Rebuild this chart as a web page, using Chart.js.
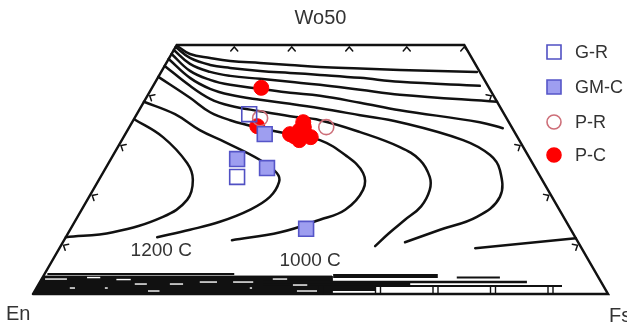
<!DOCTYPE html>
<html>
<head>
<meta charset="utf-8">
<script src="https://cdn.jsdelivr.net/npm/chart.js@4.4.1/dist/chart.umd.min.js"></script>
<style>
  html, body { margin: 0; padding: 0; background: #fff; }
  #wrap { width: 627px; height: 327px; }
</style>
</head>
<body>
<div id="wrap"><canvas id="quad" width="627" height="327"></canvas></div>
<script>
// Plot coordinates: x = Fs + Wo/2 (0..100), y = Wo (0..50)
const outline = [[0, 0], [100, 0], [75, 50], [25, 50], [0, 0]];

// Wo-rich isotherms fanning out from the Di corner
const upper1 = [[25.1, 49.8], [27.3, 48.2], [30.8, 47.4], [34.3, 46.8], [39.5, 46.4], [44.7, 46.0], [49.9, 45.6],
                [56.9, 45.3], [63.8, 45.0], [77.2, 44.6]];
const upper2 = [[24.8, 49.6], [27.3, 47.4], [30.8, 46.0], [34.3, 45.4], [39.5, 44.8], [44.7, 44.4], [49.9, 44.0],
                [56.9, 43.4], [63.8, 42.6], [77.7, 41.8]];
const upper3 = [[24.5, 49.0], [27.3, 46.2], [30.8, 44.6], [34.3, 43.8], [39.5, 43.2], [44.7, 42.6], [49.9, 42.0],
                [56.9, 41.0], [63.8, 40.0], [80.7, 38.6]];
const upper4 = [[24.1, 48.2], [27.3, 44.8], [30.8, 43.0], [34.3, 42.0], [39.5, 41.2], [44.7, 40.4], [49.9, 39.8],
                [56.9, 38.4], [63.8, 36.9], [77.7, 34.5], [81.7, 33.3]];

// isotherms bending back toward the En side
const iso900 = [[23.6, 47.2], [27.3, 43.4], [30.8, 41.2], [34.3, 40.0], [39.5, 39.0], [44.7, 38.2], [49.9, 37.3],
                [56.9, 35.9], [63.8, 34.5], [74.8, 30.9], [79.5, 27.9], [81.2, 24.9], [81.2, 19.5], [77.2, 15.5],
                [70.8, 12.9], [64.7, 10.4]];
const iso1000 = [[22.9, 45.8], [27.3, 41.8], [30.8, 39.2], [34.3, 37.8], [39.5, 36.7], [44.7, 35.7], [49.9, 34.9],
                 [56.9, 32.5], [63.8, 29.5], [67.3, 26.9], [69.0, 23.5], [69.0, 20.9], [67.5, 17.6], [64.7, 14.9],
                 [61.9, 12.2], [59.5, 9.6]];
const iso1100 = [[21.8, 43.6], [27.3, 39.4], [30.8, 36.5], [34.3, 34.9], [39.5, 33.3], [44.7, 32.1], [49.9, 30.9],
                 [54.3, 27.9], [57.4, 24.3], [57.4, 20.9], [54.3, 16.9], [49.9, 14.9], [43.0, 12.4], [34.6, 10.8]];
const iso1200 = [[19.3, 38.6], [24.7, 36.1], [29.0, 32.9], [33.4, 30.5], [39.5, 26.9], [42.4, 24.3], [42.8, 22.5],
                 [41.2, 19.5], [37.7, 16.9], [32.5, 14.5], [27.3, 12.9], [21.6, 11.4]];
const iso1300 = [[17.6, 35.1], [22.6, 31.5], [26.8, 26.3], [27.8, 22.9], [26.8, 18.9], [22.6, 15.5], [13.9, 12.4], [5.7, 11.4]];
const iso800 = [[76.9, 9.2], [94.4, 11.2]];

// Wo-poor isotherms packed along the En-Fs join
const bandBlock = [[0, 0], [1.8, 3.6], [52.0, 3.6], [52.0, 0]];
const bandLines = [[4.0, 2.5, 35.0], [3.6, 52.2, 70.4], [3.3, 73.7, 81.2], [2.4, 40.0, 85.9],
                   [2.0, 40.0, 65.6], [1.6, 40.0, 92.0], [1.0, 40.0, 59.5]];
const bandGaps = [[3.0, 2.1, 5.9], [3.3, 9.4, 11.7], [2.0, 17.7, 19.8], [2.0, 23.8, 26.1], [2.4, 29.0, 32.0],
                  [2.4, 34.8, 38.3], [3.0, 41.7, 44.2], [1.8, 45.2, 47.7], [1.2, 6.4, 7.3], [1.2, 12.5, 13.0],
                  [1.2, 37.7, 38.1], [0.6, 45.9, 49.4], [2.9, 14.5, 17.0], [0.6, 20.0, 22.0]];

// edge ticks
const edgeWo = [10, 20, 30, 40];
const topFs = [10, 20, 30, 40, 50];
const baseFs = [50, 60, 70, 80, 90];

const isoLabels = ['1200 C', '1000 C'];
const isoLabelPos = [[22.3, 8.6], [48.2, 6.6]];

// analyses
const seriesNames = ['G-R', 'GM-C', 'P-R', 'P-C'];
const gR = [[37.6, 36.1], [35.5, 23.5]];
const gmC = [[40.3, 32.1], [35.5, 27.1], [40.7, 25.3], [47.5, 13.1]];
const pR = [[39.5, 35.3], [51.0, 33.5]];
const pC = [[39.7, 41.4], [39.0, 33.7], [47.0, 34.5], [46.4, 32.9], [45.4, 31.7], [47.5, 31.9],
            [44.7, 32.1], [48.3, 31.5], [46.3, 30.9], [47.1, 33.5]];

const ink = '#111';
const textInk = '#333';
const font = "'Liberation Sans', Arial, sans-serif";
const bandWidths = [2, 4, 2, 2.5, 3, 2, 4];

const pts = a => a.map(p => ({ x: p[0], y: p[1] }));

const markerStyles = [
  { pointStyle: 'rect', pointRadius: 10.5, backgroundColor: 'rgba(0,0,0,0)', borderColor: 'rgb(80,80,195)', pointBorderWidth: 1.6 },
  { pointStyle: 'rect', pointRadius: 10.5, backgroundColor: 'rgb(158,158,240)', borderColor: 'rgb(85,85,200)', pointBorderWidth: 1.6 },
  { pointStyle: 'circle', pointRadius: 7.5, backgroundColor: 'rgba(0,0,0,0)', borderColor: 'rgb(205,110,120)', pointBorderWidth: 1.6 },
  { pointStyle: 'circle', pointRadius: 7.5, backgroundColor: '#ff0000', borderColor: '#ff0000', pointBorderWidth: 1 }
];

function curve(data, width, color, tension) {
  return {
    type: 'scatter', data: pts(data), showLine: true, pointRadius: 0,
    borderColor: color || ink, borderWidth: width, tension: tension === undefined ? 0.4 : tension,
    fill: false, clip: false, borderCapStyle: 'round', borderJoinStyle: 'round'
  };
}

const datasets = [];
[gR, gmC, pR, pC].forEach((d, i) => {
  const s = markerStyles[i];
  datasets.push({
    type: 'scatter', label: seriesNames[i], data: pts(d), showLine: false,
    pointStyle: s.pointStyle, pointRadius: s.pointRadius,
    pointBackgroundColor: s.backgroundColor, pointBorderColor: s.borderColor,
    pointBorderWidth: s.pointBorderWidth, clip: false, order: 1
  });
});
[upper1, upper2, upper3, upper4, iso900, iso1000, iso1100, iso1200, iso1300].forEach(c => {
  const ds = curve(c, 2.5); ds.order = 3; datasets.push(ds);
});
{ const ds = curve(iso800, 2.5, ink, 0); ds.order = 3; datasets.push(ds); }
{
  const ds = curve(bandBlock, 1, ink, 0);
  ds.fill = true; ds.backgroundColor = ink; ds.order = 5; datasets.push(ds);
}
bandLines.forEach((b, i) => {
  const ds = curve([[b[1], b[0]], [b[2], b[0]]], bandWidths[i], ink, 0);
  ds.borderCapStyle = 'butt'; ds.order = 4; datasets.push(ds);
});
bandGaps.forEach(g => {
  const ds = curve([[g[1], g[0]], [g[2], g[0]]], 1.4, '#fff', 0);
  ds.borderCapStyle = 'butt'; ds.order = 2; datasets.push(ds);
});
{ const ds = curve(outline, 2.5, ink, 0); ds.borderJoinStyle = 'miter'; ds.order = 2; datasets.push(ds); }

const decor = {
  id: 'decor',
  afterDatasetsDraw(chart) {
    const ctx = chart.ctx;
    const sx = chart.scales.x, sy = chart.scales.y;
    const P = (x, y) => [sx.getPixelForValue(x), sy.getPixelForValue(y)];
    const unit = (a, b) => { const l = Math.hypot(a, b); return [a / l, b / l]; };
    const en = P(0, 0), fs = P(100, 0), hd = P(75, 50), di = P(25, 50);

    ctx.save();
    ctx.strokeStyle = ink;
    ctx.lineWidth = 1.5;
    ctx.lineCap = 'round';
    const chev = (x, y, n) => {
      const [cx, cy] = P(x, y);
      const t = [-n[1], n[0]];
      ctx.beginPath();
      ctx.moveTo(cx + 6 * n[0] + 3.5 * t[0], cy + 6 * n[1] + 3.5 * t[1]);
      ctx.lineTo(cx + 2 * n[0], cy + 2 * n[1]);
      ctx.lineTo(cx + 6 * n[0] - 3.5 * t[0], cy + 6 * n[1] - 3.5 * t[1]);
      ctx.stroke();
    };
    const nLeft = unit(-(di[1] - en[1]), di[0] - en[0]);
    const nRight = unit(hd[1] - fs[1], -(hd[0] - fs[0]));
    topFs.forEach(f => chev(25 + f, 50, [0, 1]));
    edgeWo.forEach(w => chev(w / 2, w, nLeft[0] > 0 ? nLeft : [-nLeft[0], -nLeft[1]]));
    edgeWo.forEach(w => chev(100 - w / 2, w, nRight[0] < 0 ? nRight : [-nRight[0], -nRight[1]]));

    // small posts between the lowest isotherm and the base
    ctx.lineWidth = 1.4;
    baseFs.forEach(f => {
      const [cx, cy] = P(f, 0);
      const [, top] = P(f, 1.6);
      ctx.beginPath();
      ctx.moveTo(cx - 2.5, top); ctx.lineTo(cx - 2.5, cy);
      ctx.moveTo(cx + 2.5, top); ctx.lineTo(cx + 2.5, cy);
      ctx.stroke();
    });

    // text
    ctx.fillStyle = textInk;
    ctx.textBaseline = 'middle';
    ctx.textAlign = 'center';
    ctx.font = '19px ' + font;
    isoLabels.forEach((t, i) => {
      const [lx, ly] = P(isoLabelPos[i][0], isoLabelPos[i][1]);
      ctx.fillText(t, lx, ly);
    });
    ctx.font = '20px ' + font;
    ctx.fillText('Wo50', (di[0] + hd[0]) / 2, di[1] - 27);
    ctx.textAlign = 'left';
    ctx.fillText('En', en[0] - 27, en[1] + 20);
    ctx.fillText('Fs', fs[0] + 1, fs[1] + 22);

    // legend
    ctx.font = '18px ' + font;
    const lx = 554, ly = [52, 87, 122, 155];
    seriesNames.forEach((name, i) => {
      const s = markerStyles[i];
      ctx.lineWidth = 1.6;
      ctx.strokeStyle = s.borderColor;
      ctx.fillStyle = s.backgroundColor;
      ctx.beginPath();
      if (s.pointStyle === 'rect') {
        ctx.rect(lx - 7, ly[i] - 7, 14, 14);
      } else {
        ctx.arc(lx, ly[i], 7, 0, Math.PI * 2);
      }
      ctx.fill();
      ctx.stroke();
      ctx.fillStyle = textInk;
      ctx.fillText(name, 575, ly[i] + 1);
    });
    ctx.restore();
  }
};

new Chart(document.getElementById('quad'), {
  type: 'scatter',
  data: { datasets },
  options: {
    responsive: false,
    animation: false,
    events: [],
    layout: { padding: { left: 33, right: 19, top: 45, bottom: 33 } },
    scales: {
      x: { type: 'linear', min: 0, max: 100, display: false },
      y: { type: 'linear', min: 0, max: 50, display: false }
    },
    plugins: { legend: { display: false }, tooltip: { enabled: false } }
  },
  plugins: [decor]
});
</script>
</body>
</html>
